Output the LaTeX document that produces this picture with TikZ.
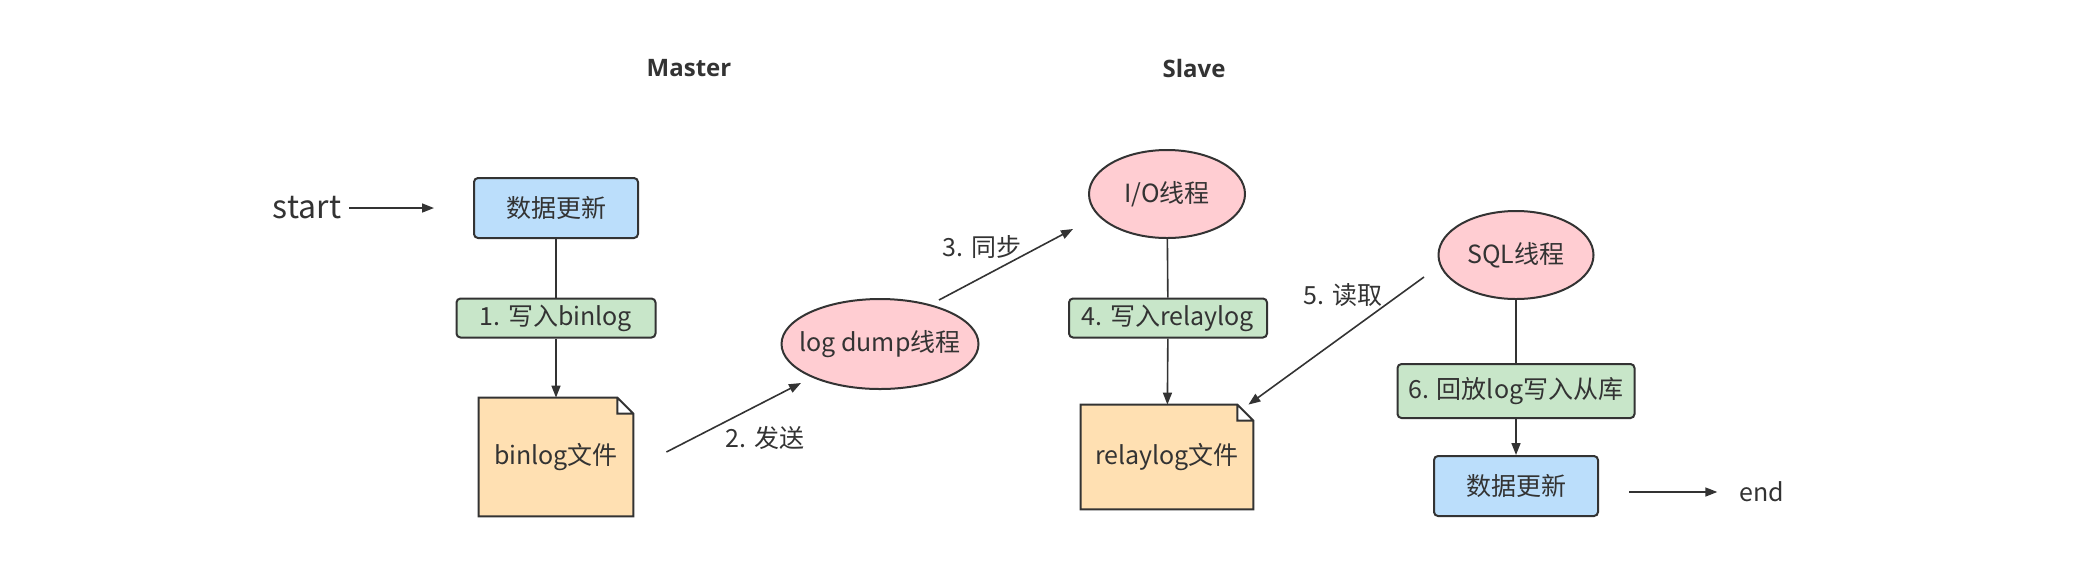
\documentclass[tikz,border=0pt]{standalone}
\usepackage{fontspec}
\setmainfont{Noto Sans CJK SC}
\newfontfamily\headfont{Open Sans}
\usetikzlibrary{arrows.meta,calc,shapes.geometric,backgrounds}
\definecolor{linegray}{HTML}{333333}
\definecolor{updblue}{HTML}{BBDEFB}
\definecolor{stepgreen}{HTML}{C8E6C9}
\definecolor{threadpink}{HTML}{FFCDD2}
\definecolor{fileorange}{HTML}{FFE0B2}
\tikzset{
  every node/.style={text=linegray, inner sep=0pt, font=\fontsize{12.5}{15}\selectfont},
  updbox/.style={draw=linegray, line width=1pt, fill=updblue, rounded corners=2pt,
    minimum width=82pt, minimum height=30pt},
  stepbox/.style={draw=linegray, line width=1pt, fill=stepgreen, rounded corners=2pt,
    minimum height=19.5pt},
  thread/.style={ellipse, draw=linegray, line width=1pt, fill=threadpink, inner xsep=-10pt},
  filebox/.style={minimum width=77pt, minimum height=59pt},
  link/.style={draw=linegray, line width=0.8pt},
  arr/.style={link, -{Triangle[length=6pt,width=4.5pt]}},
  head/.style={font=\headfont\bfseries\fontsize{12}{14}\selectfont}
}
\begin{document}
\begin{tikzpicture}[x=0.5pt, y=-0.5pt]
    \useasboundingbox (0,0) rectangle (2088,570);
    \node[head] (master) at (689,68) {Master};
    \node[head] (slave) at (1194,68) {Slave};

    \node[font=\fontsize{16}{19}\selectfont, inner sep=4pt] (start) at (307,208) {start};
    \node[updbox] (upd1) at (556,208) {数据更新};
    \node[stepbox, minimum width=99.5pt] (w1) at (556,318) {1. 写入binlog};
    \node[filebox] (binlog) at (556,457) {binlog文件};
    \node[thread, minimum width=98.5pt, minimum height=45pt] (dump) at (880,344) {log dump线程};
    \node (send) at (765,438) {2. 发送};
    \node (sync) at (982,247) {3. 同步};

    \node[thread, minimum width=78pt, minimum height=44pt] (io) at (1167,194) {I/O线程};
    \node[stepbox, minimum width=99pt] (w4) at (1168,318) {4. 写入relaylog};
    \node[filebox, minimum width=86pt, minimum height=52pt] (relay) at (1167,457) {relaylog文件};
    \node[thread, minimum width=77.5pt, minimum height=44pt] (sql) at (1516,255) {SQL线程};
    \node (read) at (1343,295) {5. 读取};
    \node[stepbox, minimum width=118.5pt, minimum height=27pt] (w6) at (1516,391) {6. 回放log写入从库};
    \node[updbox] (upd2) at (1516,486) {数据更新};
    \node[inner sep=4pt] (finish) at (1762,492) {end};

    \begin{scope}[on background layer]
        \foreach \f in {binlog, relay}
            \draw[link, line width=1pt, fill=fileorange] (\f.south west) -- (\f.north west) --
                  ($(\f.north east)+(-16,0)$) -- ($(\f.north east)+(0,16)$) --
                  (\f.south east) -- cycle
                  ($(\f.north east)+(-16,0)$) -- ($(\f.north east)+(-16,16)$) --
                  ($(\f.north east)+(0,16)$);
    \end{scope}

    \draw[arr] (start.east) -- ($(upd1.west)+(-39,0)$);
    \draw[link] (upd1) -- (w1);
    \draw[arr] (w1) -- (binlog);
    \draw[arr] ($(binlog.east)+(33,-5)$) -- ($(dump)+(-79,39)$);
    \draw[arr] ($(dump)+(59,-44)$) -- ($(io)+(-94,35)$);
    \draw[link] (io) -- (w4);
    \draw[arr] (w4) -- (relay);
    \draw[arr] ($(sql)+(-92,22)$) -- ($(relay.north east)+(-5,0)$);
    \draw[link] (sql) -- (w6);
    \draw[arr] (w6) -- (upd2);
    \draw[arr] ($(upd2.east)+(30,6)$) -- ($(finish.west)+(-14,0)$);
\end{tikzpicture}
\end{document}
